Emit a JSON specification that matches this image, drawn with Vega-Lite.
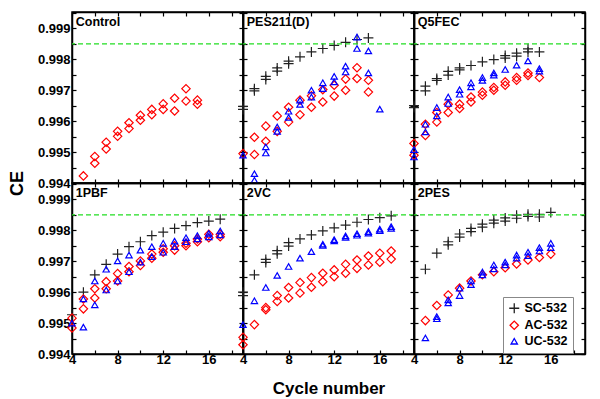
{
  "$schema": "https://vega.github.io/schema/vega-lite/v6.json",
  "autosize": {"type": "pad"},
  "padding": {"left": 7, "top": 6, "right": 12, "bottom": 5},
  "background": "white",
  "config": {
    "view": {"stroke": "black", "strokeWidth": 1.5},
    "axis": {"tickSize": -4, "tickColor": "black", "tickWidth": 1.2, "domainColor": "black", "domainWidth": 1.5, "labelFont": "Liberation Sans", "labelFontWeight": "bold", "labelFontSize": 13, "labelColor": "black", "labelPadding": 3, "labelFlush": false, "labelOverlap": false, "grid": false, "titleFont": "Liberation Sans", "titleFontWeight": "bold", "titleColor": "black"},
    "axisLeft": {"labelPadding": 6},
    "axisTop": {"labels": false, "title": null, "tickCount": 8},
    "axisRight": {"labels": false, "title": null, "tickCount": 11},
    "legend": {"strokeColor": "#888888", "fillColor": "white", "padding": 5, "labelFont": "Liberation Sans", "labelFontWeight": "bold", "labelFontSize": 12.5, "labelColor": "black", "symbolStrokeWidth": 1.3, "rowPadding": 2, "cornerRadius": 0, "labelOffset": 4}
  },
  "datasets": {
    "pts": [
      {"panel":"Control","series":"AC-532","cycle":5,"ce":0.99423},{"panel":"Control","series":"AC-532","cycle":6,"ce":0.99486},{"panel":"Control","series":"AC-532","cycle":6,"ce":0.99464},{"panel":"Control","series":"AC-532","cycle":7,"ce":0.99532},{"panel":"Control","series":"AC-532","cycle":7,"ce":0.9951},{"panel":"Control","series":"AC-532","cycle":8,"ce":0.99567},{"panel":"Control","series":"AC-532","cycle":8,"ce":0.99551},{"panel":"Control","series":"AC-532","cycle":9,"ce":0.99595},{"panel":"Control","series":"AC-532","cycle":9,"ce":0.99576},{"panel":"Control","series":"AC-532","cycle":10,"ce":0.99619},{"panel":"Control","series":"AC-532","cycle":10,"ce":0.99603},{"panel":"Control","series":"AC-532","cycle":11,"ce":0.99638},{"panel":"Control","series":"AC-532","cycle":11,"ce":0.99621},{"panel":"Control","series":"AC-532","cycle":12,"ce":0.99656},{"panel":"Control","series":"AC-532","cycle":12,"ce":0.99638},{"panel":"Control","series":"AC-532","cycle":13,"ce":0.99674},{"panel":"Control","series":"AC-532","cycle":13,"ce":0.99633},{"panel":"Control","series":"AC-532","cycle":14,"ce":0.99705},{"panel":"Control","series":"AC-532","cycle":14,"ce":0.99665},{"panel":"Control","series":"AC-532","cycle":15,"ce":0.99668},{"panel":"Control","series":"AC-532","cycle":15,"ce":0.99655},

      {"panel":"PES211(D)","series":"SC-532","cycle":4,"ce":0.99648},{"panel":"PES211(D)","series":"SC-532","cycle":4,"ce":0.99638},{"panel":"PES211(D)","series":"SC-532","cycle":5,"ce":0.99705},{"panel":"PES211(D)","series":"SC-532","cycle":5,"ce":0.99698},{"panel":"PES211(D)","series":"SC-532","cycle":6,"ce":0.99745},{"panel":"PES211(D)","series":"SC-532","cycle":6,"ce":0.99735},{"panel":"PES211(D)","series":"SC-532","cycle":7,"ce":0.99772},{"panel":"PES211(D)","series":"SC-532","cycle":7,"ce":0.99762},{"panel":"PES211(D)","series":"SC-532","cycle":8,"ce":0.99794},{"panel":"PES211(D)","series":"SC-532","cycle":8,"ce":0.99786},{"panel":"PES211(D)","series":"SC-532","cycle":9,"ce":0.99808},{"panel":"PES211(D)","series":"SC-532","cycle":10,"ce":0.99824},{"panel":"PES211(D)","series":"SC-532","cycle":11,"ce":0.99835},{"panel":"PES211(D)","series":"SC-532","cycle":12,"ce":0.99845},{"panel":"PES211(D)","series":"SC-532","cycle":13,"ce":0.99855},{"panel":"PES211(D)","series":"SC-532","cycle":14,"ce":0.99864},{"panel":"PES211(D)","series":"SC-532","cycle":15,"ce":0.99869},
      {"panel":"PES211(D)","series":"AC-532","cycle":4,"ce":0.99495},{"panel":"PES211(D)","series":"AC-532","cycle":5,"ce":0.99548},{"panel":"PES211(D)","series":"AC-532","cycle":5,"ce":0.99492},{"panel":"PES211(D)","series":"AC-532","cycle":6,"ce":0.99584},{"panel":"PES211(D)","series":"AC-532","cycle":6,"ce":0.99535},{"panel":"PES211(D)","series":"AC-532","cycle":7,"ce":0.99617},{"panel":"PES211(D)","series":"AC-532","cycle":7,"ce":0.99567},{"panel":"PES211(D)","series":"AC-532","cycle":8,"ce":0.99645},{"panel":"PES211(D)","series":"AC-532","cycle":8,"ce":0.99597},{"panel":"PES211(D)","series":"AC-532","cycle":9,"ce":0.99668},{"panel":"PES211(D)","series":"AC-532","cycle":9,"ce":0.99621},{"panel":"PES211(D)","series":"AC-532","cycle":10,"ce":0.99682},{"panel":"PES211(D)","series":"AC-532","cycle":10,"ce":0.99645},{"panel":"PES211(D)","series":"AC-532","cycle":11,"ce":0.99702},{"panel":"PES211(D)","series":"AC-532","cycle":11,"ce":0.99662},{"panel":"PES211(D)","series":"AC-532","cycle":12,"ce":0.99716},{"panel":"PES211(D)","series":"AC-532","cycle":12,"ce":0.99681},{"panel":"PES211(D)","series":"AC-532","cycle":13,"ce":0.99736},{"panel":"PES211(D)","series":"AC-532","cycle":13,"ce":0.997},{"panel":"PES211(D)","series":"AC-532","cycle":14,"ce":0.99773},{"panel":"PES211(D)","series":"AC-532","cycle":14,"ce":0.99738},{"panel":"PES211(D)","series":"AC-532","cycle":15,"ce":0.99732},{"panel":"PES211(D)","series":"AC-532","cycle":15,"ce":0.99694},
      {"panel":"PES211(D)","series":"UC-532","cycle":4,"ce":0.9949},{"panel":"PES211(D)","series":"UC-532","cycle":5,"ce":0.9943},{"panel":"PES211(D)","series":"UC-532","cycle":5,"ce":0.99409},{"panel":"PES211(D)","series":"UC-532","cycle":6,"ce":0.99517},{"panel":"PES211(D)","series":"UC-532","cycle":6,"ce":0.99497},{"panel":"PES211(D)","series":"UC-532","cycle":7,"ce":0.99581},{"panel":"PES211(D)","series":"UC-532","cycle":7,"ce":0.99567},{"panel":"PES211(D)","series":"UC-532","cycle":8,"ce":0.99632},{"panel":"PES211(D)","series":"UC-532","cycle":8,"ce":0.99612},{"panel":"PES211(D)","series":"UC-532","cycle":9,"ce":0.99668},{"panel":"PES211(D)","series":"UC-532","cycle":9,"ce":0.99654},{"panel":"PES211(D)","series":"UC-532","cycle":10,"ce":0.997},{"panel":"PES211(D)","series":"UC-532","cycle":10,"ce":0.99678},{"panel":"PES211(D)","series":"UC-532","cycle":11,"ce":0.99724},{"panel":"PES211(D)","series":"UC-532","cycle":11,"ce":0.99705},{"panel":"PES211(D)","series":"UC-532","cycle":12,"ce":0.99745},{"panel":"PES211(D)","series":"UC-532","cycle":12,"ce":0.99727},{"panel":"PES211(D)","series":"UC-532","cycle":13,"ce":0.99778},{"panel":"PES211(D)","series":"UC-532","cycle":13,"ce":0.99759},{"panel":"PES211(D)","series":"UC-532","cycle":14,"ce":0.99872},{"panel":"PES211(D)","series":"UC-532","cycle":14,"ce":0.99835},{"panel":"PES211(D)","series":"UC-532","cycle":15,"ce":0.99827},{"panel":"PES211(D)","series":"UC-532","cycle":15,"ce":0.99756},{"panel":"PES211(D)","series":"UC-532","cycle":16,"ce":0.99639},

      {"panel":"Q5FEC","series":"SC-532","cycle":4,"ce":0.9965},{"panel":"Q5FEC","series":"SC-532","cycle":4,"ce":0.99644},{"panel":"Q5FEC","series":"SC-532","cycle":5,"ce":0.99713},{"panel":"Q5FEC","series":"SC-532","cycle":5,"ce":0.99698},{"panel":"Q5FEC","series":"SC-532","cycle":6,"ce":0.99738},{"panel":"Q5FEC","series":"SC-532","cycle":6,"ce":0.99732},{"panel":"Q5FEC","series":"SC-532","cycle":7,"ce":0.99761},{"panel":"Q5FEC","series":"SC-532","cycle":7,"ce":0.99749},{"panel":"Q5FEC","series":"SC-532","cycle":8,"ce":0.99772},{"panel":"Q5FEC","series":"SC-532","cycle":8,"ce":0.99766},{"panel":"Q5FEC","series":"SC-532","cycle":9,"ce":0.9978},{"panel":"Q5FEC","series":"SC-532","cycle":10,"ce":0.99792},{"panel":"Q5FEC","series":"SC-532","cycle":11,"ce":0.99799},{"panel":"Q5FEC","series":"SC-532","cycle":12,"ce":0.99812},{"panel":"Q5FEC","series":"SC-532","cycle":12,"ce":0.99804},{"panel":"Q5FEC","series":"SC-532","cycle":13,"ce":0.9982},{"panel":"Q5FEC","series":"SC-532","cycle":13,"ce":0.9981},{"panel":"Q5FEC","series":"SC-532","cycle":14,"ce":0.99834},{"panel":"Q5FEC","series":"SC-532","cycle":14,"ce":0.99824},{"panel":"Q5FEC","series":"SC-532","cycle":15,"ce":0.99824},
      {"panel":"Q5FEC","series":"AC-532","cycle":4,"ce":0.99528},{"panel":"Q5FEC","series":"AC-532","cycle":4,"ce":0.9949},{"panel":"Q5FEC","series":"AC-532","cycle":5,"ce":0.9959},{"panel":"Q5FEC","series":"AC-532","cycle":5,"ce":0.99554},{"panel":"Q5FEC","series":"AC-532","cycle":6,"ce":0.99628},{"panel":"Q5FEC","series":"AC-532","cycle":6,"ce":0.99597},{"panel":"Q5FEC","series":"AC-532","cycle":7,"ce":0.99655},{"panel":"Q5FEC","series":"AC-532","cycle":7,"ce":0.99628},{"panel":"Q5FEC","series":"AC-532","cycle":8,"ce":0.99655},{"panel":"Q5FEC","series":"AC-532","cycle":8,"ce":0.99641},{"panel":"Q5FEC","series":"AC-532","cycle":9,"ce":0.99678},{"panel":"Q5FEC","series":"AC-532","cycle":9,"ce":0.99662},{"panel":"Q5FEC","series":"AC-532","cycle":10,"ce":0.99694},{"panel":"Q5FEC","series":"AC-532","cycle":10,"ce":0.99684},{"panel":"Q5FEC","series":"AC-532","cycle":11,"ce":0.99709},{"panel":"Q5FEC","series":"AC-532","cycle":11,"ce":0.997},{"panel":"Q5FEC","series":"AC-532","cycle":12,"ce":0.99727},{"panel":"Q5FEC","series":"AC-532","cycle":12,"ce":0.99716},{"panel":"Q5FEC","series":"AC-532","cycle":13,"ce":0.99741},{"panel":"Q5FEC","series":"AC-532","cycle":13,"ce":0.99732},{"panel":"Q5FEC","series":"AC-532","cycle":14,"ce":0.99756},{"panel":"Q5FEC","series":"AC-532","cycle":14,"ce":0.99748},{"panel":"Q5FEC","series":"AC-532","cycle":15,"ce":0.99741},
      {"panel":"Q5FEC","series":"UC-532","cycle":4,"ce":0.99508},{"panel":"Q5FEC","series":"UC-532","cycle":4,"ce":0.99484},{"panel":"Q5FEC","series":"UC-532","cycle":5,"ce":0.9959},{"panel":"Q5FEC","series":"UC-532","cycle":5,"ce":0.99565},{"panel":"Q5FEC","series":"UC-532","cycle":6,"ce":0.99644},{"panel":"Q5FEC","series":"UC-532","cycle":6,"ce":0.99617},{"panel":"Q5FEC","series":"UC-532","cycle":7,"ce":0.99678},{"panel":"Q5FEC","series":"UC-532","cycle":7,"ce":0.99657},{"panel":"Q5FEC","series":"UC-532","cycle":8,"ce":0.99702},{"panel":"Q5FEC","series":"UC-532","cycle":8,"ce":0.99687},{"panel":"Q5FEC","series":"UC-532","cycle":9,"ce":0.99724},{"panel":"Q5FEC","series":"UC-532","cycle":9,"ce":0.99711},{"panel":"Q5FEC","series":"UC-532","cycle":10,"ce":0.99741},{"panel":"Q5FEC","series":"UC-532","cycle":10,"ce":0.99732},{"panel":"Q5FEC","series":"UC-532","cycle":11,"ce":0.99756},{"panel":"Q5FEC","series":"UC-532","cycle":11,"ce":0.99749},{"panel":"Q5FEC","series":"UC-532","cycle":12,"ce":0.99767},{"panel":"Q5FEC","series":"UC-532","cycle":13,"ce":0.99781},{"panel":"Q5FEC","series":"UC-532","cycle":14,"ce":0.99795},{"panel":"Q5FEC","series":"UC-532","cycle":15,"ce":0.9977},{"panel":"Q5FEC","series":"UC-532","cycle":15,"ce":0.99762},

      {"panel":"1PBF","series":"SC-532","cycle":4,"ce":0.99527},{"panel":"1PBF","series":"SC-532","cycle":5,"ce":0.996},{"panel":"1PBF","series":"SC-532","cycle":6,"ce":0.99656},{"panel":"1PBF","series":"SC-532","cycle":7,"ce":0.9969},{"panel":"1PBF","series":"SC-532","cycle":8,"ce":0.99723},{"panel":"1PBF","series":"SC-532","cycle":9,"ce":0.99747},{"panel":"1PBF","series":"SC-532","cycle":10,"ce":0.99763},{"panel":"1PBF","series":"SC-532","cycle":11,"ce":0.99783},{"panel":"1PBF","series":"SC-532","cycle":12,"ce":0.99794},{"panel":"1PBF","series":"SC-532","cycle":13,"ce":0.99806},{"panel":"1PBF","series":"SC-532","cycle":14,"ce":0.99815},{"panel":"1PBF","series":"SC-532","cycle":15,"ce":0.99825},{"panel":"1PBF","series":"SC-532","cycle":16,"ce":0.9983},{"panel":"1PBF","series":"SC-532","cycle":17,"ce":0.99836},
      {"panel":"1PBF","series":"AC-532","cycle":4,"ce":0.99516},{"panel":"1PBF","series":"AC-532","cycle":4,"ce":0.99484},{"panel":"1PBF","series":"AC-532","cycle":5,"ce":0.99578},{"panel":"1PBF","series":"AC-532","cycle":5,"ce":0.99546},{"panel":"1PBF","series":"AC-532","cycle":6,"ce":0.99611},{"panel":"1PBF","series":"AC-532","cycle":6,"ce":0.99581},{"panel":"1PBF","series":"AC-532","cycle":7,"ce":0.99634},{"panel":"1PBF","series":"AC-532","cycle":7,"ce":0.99611},{"panel":"1PBF","series":"AC-532","cycle":8,"ce":0.9966},{"panel":"1PBF","series":"AC-532","cycle":8,"ce":0.99636},{"panel":"1PBF","series":"AC-532","cycle":9,"ce":0.99683},{"panel":"1PBF","series":"AC-532","cycle":9,"ce":0.99666},{"panel":"1PBF","series":"AC-532","cycle":10,"ce":0.99701},{"panel":"1PBF","series":"AC-532","cycle":10,"ce":0.99686},{"panel":"1PBF","series":"AC-532","cycle":11,"ce":0.99723},{"panel":"1PBF","series":"AC-532","cycle":11,"ce":0.9971},{"panel":"1PBF","series":"AC-532","cycle":12,"ce":0.9974},{"panel":"1PBF","series":"AC-532","cycle":12,"ce":0.99729},{"panel":"1PBF","series":"AC-532","cycle":13,"ce":0.9975},{"panel":"1PBF","series":"AC-532","cycle":13,"ce":0.99736},{"panel":"1PBF","series":"AC-532","cycle":14,"ce":0.99758},{"panel":"1PBF","series":"AC-532","cycle":14,"ce":0.9975},{"panel":"1PBF","series":"AC-532","cycle":15,"ce":0.99772},{"panel":"1PBF","series":"AC-532","cycle":15,"ce":0.99763},{"panel":"1PBF","series":"AC-532","cycle":16,"ce":0.99787},{"panel":"1PBF","series":"AC-532","cycle":16,"ce":0.99776},{"panel":"1PBF","series":"AC-532","cycle":17,"ce":0.99787},{"panel":"1PBF","series":"AC-532","cycle":17,"ce":0.99779},
      {"panel":"1PBF","series":"UC-532","cycle":4,"ce":0.995},{"panel":"1PBF","series":"UC-532","cycle":5,"ce":0.99578},{"panel":"1PBF","series":"UC-532","cycle":5,"ce":0.99487},{"panel":"1PBF","series":"UC-532","cycle":6,"ce":0.99636},{"panel":"1PBF","series":"UC-532","cycle":6,"ce":0.99559},{"panel":"1PBF","series":"UC-532","cycle":7,"ce":0.99674},{"panel":"1PBF","series":"UC-532","cycle":7,"ce":0.99607},{"panel":"1PBF","series":"UC-532","cycle":8,"ce":0.99701},{"panel":"1PBF","series":"UC-532","cycle":8,"ce":0.99636},{"panel":"1PBF","series":"UC-532","cycle":9,"ce":0.9972},{"panel":"1PBF","series":"UC-532","cycle":9,"ce":0.99666},{"panel":"1PBF","series":"UC-532","cycle":10,"ce":0.99736},{"panel":"1PBF","series":"UC-532","cycle":10,"ce":0.99697},{"panel":"1PBF","series":"UC-532","cycle":11,"ce":0.99747},{"panel":"1PBF","series":"UC-532","cycle":11,"ce":0.99715},{"panel":"1PBF","series":"UC-532","cycle":12,"ce":0.99758},{"panel":"1PBF","series":"UC-532","cycle":12,"ce":0.99729},{"panel":"1PBF","series":"UC-532","cycle":13,"ce":0.99765},{"panel":"1PBF","series":"UC-532","cycle":13,"ce":0.99747},{"panel":"1PBF","series":"UC-532","cycle":14,"ce":0.99776},{"panel":"1PBF","series":"UC-532","cycle":14,"ce":0.99763},{"panel":"1PBF","series":"UC-532","cycle":15,"ce":0.99783},{"panel":"1PBF","series":"UC-532","cycle":15,"ce":0.99772},{"panel":"1PBF","series":"UC-532","cycle":16,"ce":0.9979},{"panel":"1PBF","series":"UC-532","cycle":16,"ce":0.99779},{"panel":"1PBF","series":"UC-532","cycle":17,"ce":0.99798},{"panel":"1PBF","series":"UC-532","cycle":17,"ce":0.99785},

      {"panel":"2VC","series":"SC-532","cycle":4,"ce":0.996},{"panel":"2VC","series":"SC-532","cycle":4,"ce":0.99589},{"panel":"2VC","series":"SC-532","cycle":5,"ce":0.99656},{"panel":"2VC","series":"SC-532","cycle":6,"ce":0.99706},{"panel":"2VC","series":"SC-532","cycle":6,"ce":0.99696},{"panel":"2VC","series":"SC-532","cycle":7,"ce":0.99734},{"panel":"2VC","series":"SC-532","cycle":7,"ce":0.99724},{"panel":"2VC","series":"SC-532","cycle":8,"ce":0.9976},{"panel":"2VC","series":"SC-532","cycle":8,"ce":0.99749},{"panel":"2VC","series":"SC-532","cycle":9,"ce":0.99772},{"panel":"2VC","series":"SC-532","cycle":10,"ce":0.99785},{"panel":"2VC","series":"SC-532","cycle":11,"ce":0.99798},{"panel":"2VC","series":"SC-532","cycle":12,"ce":0.99808},{"panel":"2VC","series":"SC-532","cycle":13,"ce":0.99817},{"panel":"2VC","series":"SC-532","cycle":14,"ce":0.99826},{"panel":"2VC","series":"SC-532","cycle":15,"ce":0.99835},{"panel":"2VC","series":"SC-532","cycle":16,"ce":0.99841},{"panel":"2VC","series":"SC-532","cycle":17,"ce":0.99847},
      {"panel":"2VC","series":"AC-532","cycle":4,"ce":0.99454},{"panel":"2VC","series":"AC-532","cycle":4,"ce":0.9943},{"panel":"2VC","series":"AC-532","cycle":5,"ce":0.99495},{"panel":"2VC","series":"AC-532","cycle":6,"ce":0.9955},{"panel":"2VC","series":"AC-532","cycle":6,"ce":0.99543},{"panel":"2VC","series":"AC-532","cycle":7,"ce":0.99589},{"panel":"2VC","series":"AC-532","cycle":7,"ce":0.9957},{"panel":"2VC","series":"AC-532","cycle":8,"ce":0.99615},{"panel":"2VC","series":"AC-532","cycle":8,"ce":0.99581},{"panel":"2VC","series":"AC-532","cycle":9,"ce":0.99631},{"panel":"2VC","series":"AC-532","cycle":9,"ce":0.99597},{"panel":"2VC","series":"AC-532","cycle":10,"ce":0.99647},{"panel":"2VC","series":"AC-532","cycle":10,"ce":0.99616},{"panel":"2VC","series":"AC-532","cycle":11,"ce":0.99661},{"panel":"2VC","series":"AC-532","cycle":11,"ce":0.99634},{"panel":"2VC","series":"AC-532","cycle":12,"ce":0.99672},{"panel":"2VC","series":"AC-532","cycle":12,"ce":0.9965},{"panel":"2VC","series":"AC-532","cycle":13,"ce":0.9969},{"panel":"2VC","series":"AC-532","cycle":13,"ce":0.99661},{"panel":"2VC","series":"AC-532","cycle":14,"ce":0.99704},{"panel":"2VC","series":"AC-532","cycle":14,"ce":0.99677},{"panel":"2VC","series":"AC-532","cycle":15,"ce":0.99717},{"panel":"2VC","series":"AC-532","cycle":15,"ce":0.99688},{"panel":"2VC","series":"AC-532","cycle":16,"ce":0.99726},{"panel":"2VC","series":"AC-532","cycle":16,"ce":0.99697},{"panel":"2VC","series":"AC-532","cycle":17,"ce":0.99733},{"panel":"2VC","series":"AC-532","cycle":17,"ce":0.99707},
      {"panel":"2VC","series":"UC-532","cycle":4,"ce":0.99495},{"panel":"2VC","series":"UC-532","cycle":5,"ce":0.99572},{"panel":"2VC","series":"UC-532","cycle":6,"ce":0.99615},{"panel":"2VC","series":"UC-532","cycle":7,"ce":0.99654},{"panel":"2VC","series":"UC-532","cycle":8,"ce":0.99683},{"panel":"2VC","series":"UC-532","cycle":9,"ce":0.9971},{"panel":"2VC","series":"UC-532","cycle":10,"ce":0.99731},{"panel":"2VC","series":"UC-532","cycle":11,"ce":0.99755},{"panel":"2VC","series":"UC-532","cycle":11,"ce":0.99751},{"panel":"2VC","series":"UC-532","cycle":12,"ce":0.9977},{"panel":"2VC","series":"UC-532","cycle":12,"ce":0.99766},{"panel":"2VC","series":"UC-532","cycle":13,"ce":0.99782},{"panel":"2VC","series":"UC-532","cycle":13,"ce":0.99777},{"panel":"2VC","series":"UC-532","cycle":14,"ce":0.99789},{"panel":"2VC","series":"UC-532","cycle":14,"ce":0.99784},{"panel":"2VC","series":"UC-532","cycle":15,"ce":0.99796},{"panel":"2VC","series":"UC-532","cycle":15,"ce":0.99791},{"panel":"2VC","series":"UC-532","cycle":16,"ce":0.99804},{"panel":"2VC","series":"UC-532","cycle":16,"ce":0.99799},{"panel":"2VC","series":"UC-532","cycle":17,"ce":0.99812},{"panel":"2VC","series":"UC-532","cycle":17,"ce":0.99806},

      {"panel":"2PES","series":"SC-532","cycle":5,"ce":0.99674},{"panel":"2PES","series":"SC-532","cycle":6,"ce":0.99726},{"panel":"2PES","series":"SC-532","cycle":7,"ce":0.99763},{"panel":"2PES","series":"SC-532","cycle":7,"ce":0.99753},{"panel":"2PES","series":"SC-532","cycle":8,"ce":0.99788},{"panel":"2PES","series":"SC-532","cycle":8,"ce":0.99778},{"panel":"2PES","series":"SC-532","cycle":9,"ce":0.99806},{"panel":"2PES","series":"SC-532","cycle":9,"ce":0.99796},{"panel":"2PES","series":"SC-532","cycle":10,"ce":0.9982},{"panel":"2PES","series":"SC-532","cycle":10,"ce":0.9981},{"panel":"2PES","series":"SC-532","cycle":11,"ce":0.99833},{"panel":"2PES","series":"SC-532","cycle":11,"ce":0.99823},{"panel":"2PES","series":"SC-532","cycle":12,"ce":0.9984},{"panel":"2PES","series":"SC-532","cycle":12,"ce":0.9983},{"panel":"2PES","series":"SC-532","cycle":13,"ce":0.99849},{"panel":"2PES","series":"SC-532","cycle":13,"ce":0.99839},{"panel":"2PES","series":"SC-532","cycle":14,"ce":0.99852},{"panel":"2PES","series":"SC-532","cycle":14,"ce":0.99845},{"panel":"2PES","series":"SC-532","cycle":15,"ce":0.99852},{"panel":"2PES","series":"SC-532","cycle":15,"ce":0.99843},{"panel":"2PES","series":"SC-532","cycle":16,"ce":0.99858},
      {"panel":"2PES","series":"AC-532","cycle":5,"ce":0.99508},{"panel":"2PES","series":"AC-532","cycle":6,"ce":0.99557},{"panel":"2PES","series":"AC-532","cycle":7,"ce":0.99591},{"panel":"2PES","series":"AC-532","cycle":8,"ce":0.99613},{"panel":"2PES","series":"AC-532","cycle":9,"ce":0.99636},{"panel":"2PES","series":"AC-532","cycle":10,"ce":0.99656},{"panel":"2PES","series":"AC-532","cycle":11,"ce":0.99666},{"panel":"2PES","series":"AC-532","cycle":12,"ce":0.99679},{"panel":"2PES","series":"AC-532","cycle":13,"ce":0.99691},{"panel":"2PES","series":"AC-532","cycle":14,"ce":0.99704},{"panel":"2PES","series":"AC-532","cycle":15,"ce":0.99712},{"panel":"2PES","series":"AC-532","cycle":16,"ce":0.99723},
      {"panel":"2PES","series":"UC-532","cycle":5,"ce":0.99452},{"panel":"2PES","series":"UC-532","cycle":6,"ce":0.99521},{"panel":"2PES","series":"UC-532","cycle":6,"ce":0.99514},{"panel":"2PES","series":"UC-532","cycle":7,"ce":0.99575},{"panel":"2PES","series":"UC-532","cycle":7,"ce":0.99565},{"panel":"2PES","series":"UC-532","cycle":8,"ce":0.99613},{"panel":"2PES","series":"UC-532","cycle":8,"ce":0.99589},{"panel":"2PES","series":"UC-532","cycle":9,"ce":0.99636},{"panel":"2PES","series":"UC-532","cycle":9,"ce":0.99624},{"panel":"2PES","series":"UC-532","cycle":10,"ce":0.99665},{"panel":"2PES","series":"UC-532","cycle":10,"ce":0.99656},{"panel":"2PES","series":"UC-532","cycle":11,"ce":0.99688},{"panel":"2PES","series":"UC-532","cycle":11,"ce":0.99675},{"panel":"2PES","series":"UC-532","cycle":12,"ce":0.99697},{"panel":"2PES","series":"UC-532","cycle":12,"ce":0.99688},{"panel":"2PES","series":"UC-532","cycle":13,"ce":0.9972},{"panel":"2PES","series":"UC-532","cycle":13,"ce":0.9971},{"panel":"2PES","series":"UC-532","cycle":14,"ce":0.99729},{"panel":"2PES","series":"UC-532","cycle":14,"ce":0.99718},{"panel":"2PES","series":"UC-532","cycle":15,"ce":0.99744},{"panel":"2PES","series":"UC-532","cycle":15,"ce":0.99733},{"panel":"2PES","series":"UC-532","cycle":16,"ce":0.99758},{"panel":"2PES","series":"UC-532","cycle":16,"ce":0.99744}
    ]
  },
  "data": {"name": "pts"},
  "columns": 3,
  "spacing": 0,
  "bounds": "flush",
  "concat": [
    {
      "width": 171, "height": 171,
      "resolve": {"axis": {"x": "independent", "y": "independent"}},
      "layer": [
        {"transform": [{"filter": "datum.panel == 'Control'"}],
         "mark": {"type": "point", "filled": false, "strokeWidth": 1.2, "opacity": 1},
         "encoding": {
           "x": {"field": "cycle", "type": "quantitative", "scale": {"domain": [4, 19], "nice": false, "zero": false}, "axis": {"orient": "bottom", "values": [4,6,8,10,12,14,16,18], "labels": false, "title": null}},
           "y": {"field": "ce", "type": "quantitative", "scale": {"domain": [0.994, 0.99953], "nice": false, "zero": false}, "axis": {"orient": "left", "values": [0.994,0.9945,0.995,0.9955,0.996,0.9965,0.997,0.9975,0.998,0.9985,0.999,0.9995], "format": ".3f", "labelExpr": "round(datum.value*10000) % 10 == 0 ? datum.label : ''", "title": "CE", "titleFontSize": 18, "titleX": -46, "titleY": 171}},
           "shape": {"field": "series", "type": "nominal", "scale": {"domain": ["SC-532","AC-532","UC-532"], "range": ["M-1,0L1,0M0,-1L0,1", "diamond", "triangle-up"]}, "legend": {"title": null}},
           "color": {"field": "series", "type": "nominal", "scale": {"domain": ["SC-532","AC-532","UC-532"], "range": ["#222222", "#ff0000", "#0000ff"]}, "legend": {"title": null, "orient": "none", "legendX": 431, "legendY": 285}},
           "size": {"field": "series", "type": "nominal", "scale": {"domain": ["SC-532","AC-532","UC-532"], "range": [100, 40, 36]}, "legend": {"title": null}}
         }},
        {"data": {"values": [{}]}, "mark": {"type": "rule", "color": "#22dd22", "strokeDash": [5, 3], "strokeWidth": 1.3}, "encoding": {"y": {"datum": 0.9985, "axis": null}}},
        {"data": {"values": [{}]}, "mark": {"type": "text", "align": "left", "baseline": "middle", "font": "Liberation Sans", "fontWeight": "bold", "fontSize": 12.5, "color": "black"},
         "encoding": {"x": {"datum": 4.33, "type": "quantitative", "axis": {"orient": "top", "labels": false, "title": null}}, "y": {"datum": 0.99922, "type": "quantitative", "axis": {"orient": "right", "labels": false, "title": null}}, "text": {"value": "Control"}}}
      ]
    },
    {
      "width": 171, "height": 171,
      "resolve": {"axis": {"x": "independent", "y": "independent"}},
      "layer": [
        {"transform": [{"filter": "datum.panel == 'PES211(D)'"}],
         "mark": {"type": "point", "filled": false, "strokeWidth": 1.2, "opacity": 1},
         "encoding": {
           "x": {"field": "cycle", "type": "quantitative", "scale": {"domain": [4, 19], "nice": false, "zero": false}, "axis": {"orient": "bottom", "values": [4,6,8,10,12,14,16,18], "labels": false, "title": null}},
           "y": {"field": "ce", "type": "quantitative", "scale": {"domain": [0.994, 0.99953], "nice": false, "zero": false}, "axis": {"orient": "left", "values": [0.994,0.9945,0.995,0.9955,0.996,0.9965,0.997,0.9975,0.998,0.9985,0.999,0.9995], "labels": false, "title": null}},
           "shape": {"field": "series", "type": "nominal", "scale": {"domain": ["SC-532","AC-532","UC-532"], "range": ["M-1,0L1,0M0,-1L0,1", "diamond", "triangle-up"]}, "legend": {"title": null}},
           "color": {"field": "series", "type": "nominal", "scale": {"domain": ["SC-532","AC-532","UC-532"], "range": ["#222222", "#ff0000", "#0000ff"]}, "legend": {"title": null, "orient": "none", "legendX": 431, "legendY": 285}},
           "size": {"field": "series", "type": "nominal", "scale": {"domain": ["SC-532","AC-532","UC-532"], "range": [100, 40, 36]}, "legend": {"title": null}}
         }},
        {"data": {"values": [{}]}, "mark": {"type": "rule", "color": "#22dd22", "strokeDash": [5, 3], "strokeWidth": 1.3}, "encoding": {"y": {"datum": 0.9985, "axis": null}}},
        {"data": {"values": [{}]}, "mark": {"type": "text", "align": "left", "baseline": "middle", "font": "Liberation Sans", "fontWeight": "bold", "fontSize": 12.5, "color": "black"},
         "encoding": {"x": {"datum": 4.33, "type": "quantitative", "axis": {"orient": "top", "labels": false, "title": null}}, "y": {"datum": 0.99922, "type": "quantitative", "axis": {"orient": "right", "labels": false, "title": null}}, "text": {"value": "PES211(D)"}}}
      ]
    },
    {
      "width": 171, "height": 171,
      "resolve": {"axis": {"x": "independent", "y": "independent"}},
      "layer": [
        {"transform": [{"filter": "datum.panel == 'Q5FEC'"}],
         "mark": {"type": "point", "filled": false, "strokeWidth": 1.2, "opacity": 1},
         "encoding": {
           "x": {"field": "cycle", "type": "quantitative", "scale": {"domain": [4, 19], "nice": false, "zero": false}, "axis": {"orient": "bottom", "values": [4,6,8,10,12,14,16,18], "labels": false, "title": null}},
           "y": {"field": "ce", "type": "quantitative", "scale": {"domain": [0.994, 0.99953], "nice": false, "zero": false}, "axis": {"orient": "left", "values": [0.994,0.9945,0.995,0.9955,0.996,0.9965,0.997,0.9975,0.998,0.9985,0.999,0.9995], "labels": false, "title": null}},
           "shape": {"field": "series", "type": "nominal", "scale": {"domain": ["SC-532","AC-532","UC-532"], "range": ["M-1,0L1,0M0,-1L0,1", "diamond", "triangle-up"]}, "legend": {"title": null}},
           "color": {"field": "series", "type": "nominal", "scale": {"domain": ["SC-532","AC-532","UC-532"], "range": ["#222222", "#ff0000", "#0000ff"]}, "legend": {"title": null, "orient": "none", "legendX": 431, "legendY": 285}},
           "size": {"field": "series", "type": "nominal", "scale": {"domain": ["SC-532","AC-532","UC-532"], "range": [100, 40, 36]}, "legend": {"title": null}}
         }},
        {"data": {"values": [{}]}, "mark": {"type": "rule", "color": "#22dd22", "strokeDash": [5, 3], "strokeWidth": 1.3}, "encoding": {"y": {"datum": 0.9985, "axis": null}}},
        {"data": {"values": [{}]}, "mark": {"type": "text", "align": "left", "baseline": "middle", "font": "Liberation Sans", "fontWeight": "bold", "fontSize": 12.5, "color": "black"},
         "encoding": {"x": {"datum": 4.33, "type": "quantitative", "axis": {"orient": "top", "labels": false, "title": null}}, "y": {"datum": 0.99922, "type": "quantitative", "axis": {"orient": "right", "labels": false, "title": null}}, "text": {"value": "Q5FEC"}}}
      ]
    },
    {
      "width": 171, "height": 171,
      "resolve": {"axis": {"x": "independent", "y": "independent"}},
      "layer": [
        {"transform": [{"filter": "datum.panel == '1PBF'"}],
         "mark": {"type": "point", "filled": false, "strokeWidth": 1.2, "opacity": 1},
         "encoding": {
           "x": {"field": "cycle", "type": "quantitative", "scale": {"domain": [4, 19], "nice": false, "zero": false}, "axis": {"orient": "bottom", "values": [4,6,8,10,12,14,16,18], "labelExpr": "datum.value % 4 == 0 ? datum.label : ''", "title": null}},
           "y": {"field": "ce", "type": "quantitative", "scale": {"domain": [0.994, 0.99953], "nice": false, "zero": false}, "axis": {"orient": "left", "values": [0.994,0.9945,0.995,0.9955,0.996,0.9965,0.997,0.9975,0.998,0.9985,0.999,0.9995], "format": ".3f", "labelExpr": "round(datum.value*10000) % 10 == 0 ? datum.label : ''", "title": null}},
           "shape": {"field": "series", "type": "nominal", "scale": {"domain": ["SC-532","AC-532","UC-532"], "range": ["M-1,0L1,0M0,-1L0,1", "diamond", "triangle-up"]}, "legend": {"title": null}},
           "color": {"field": "series", "type": "nominal", "scale": {"domain": ["SC-532","AC-532","UC-532"], "range": ["#222222", "#ff0000", "#0000ff"]}, "legend": {"title": null, "orient": "none", "legendX": 431, "legendY": 285}},
           "size": {"field": "series", "type": "nominal", "scale": {"domain": ["SC-532","AC-532","UC-532"], "range": [100, 40, 36]}, "legend": {"title": null}}
         }},
        {"data": {"values": [{}]}, "mark": {"type": "rule", "color": "#22dd22", "strokeDash": [5, 3], "strokeWidth": 1.3}, "encoding": {"y": {"datum": 0.9985, "axis": null}}},
        {"data": {"values": [{}]}, "mark": {"type": "text", "align": "left", "baseline": "middle", "font": "Liberation Sans", "fontWeight": "bold", "fontSize": 12.5, "color": "black"},
         "encoding": {"x": {"datum": 4.33, "type": "quantitative", "axis": {"orient": "top", "labels": false, "title": null}}, "y": {"datum": 0.99922, "type": "quantitative", "axis": {"orient": "right", "labels": false, "title": null}}, "text": {"value": "1PBF"}}}
      ]
    },
    {
      "width": 171, "height": 171,
      "resolve": {"axis": {"x": "independent", "y": "independent"}},
      "layer": [
        {"transform": [{"filter": "datum.panel == '2VC'"}],
         "mark": {"type": "point", "filled": false, "strokeWidth": 1.2, "opacity": 1},
         "encoding": {
           "x": {"field": "cycle", "type": "quantitative", "scale": {"domain": [4, 19], "nice": false, "zero": false}, "axis": {"orient": "bottom", "values": [4,6,8,10,12,14,16,18], "labelExpr": "datum.value % 4 == 0 ? datum.label : ''", "title": "Cycle number", "titleFontSize": 17, "titlePadding": 14}},
           "y": {"field": "ce", "type": "quantitative", "scale": {"domain": [0.994, 0.99953], "nice": false, "zero": false}, "axis": {"orient": "left", "values": [0.994,0.9945,0.995,0.9955,0.996,0.9965,0.997,0.9975,0.998,0.9985,0.999,0.9995], "labels": false, "title": null}},
           "shape": {"field": "series", "type": "nominal", "scale": {"domain": ["SC-532","AC-532","UC-532"], "range": ["M-1,0L1,0M0,-1L0,1", "diamond", "triangle-up"]}, "legend": {"title": null}},
           "color": {"field": "series", "type": "nominal", "scale": {"domain": ["SC-532","AC-532","UC-532"], "range": ["#222222", "#ff0000", "#0000ff"]}, "legend": {"title": null, "orient": "none", "legendX": 431, "legendY": 285}},
           "size": {"field": "series", "type": "nominal", "scale": {"domain": ["SC-532","AC-532","UC-532"], "range": [100, 40, 36]}, "legend": {"title": null}}
         }},
        {"data": {"values": [{}]}, "mark": {"type": "rule", "color": "#22dd22", "strokeDash": [5, 3], "strokeWidth": 1.3}, "encoding": {"y": {"datum": 0.9985, "axis": null}}},
        {"data": {"values": [{}]}, "mark": {"type": "text", "align": "left", "baseline": "middle", "font": "Liberation Sans", "fontWeight": "bold", "fontSize": 12.5, "color": "black"},
         "encoding": {"x": {"datum": 4.33, "type": "quantitative", "axis": {"orient": "top", "labels": false, "title": null}}, "y": {"datum": 0.99922, "type": "quantitative", "axis": {"orient": "right", "labels": false, "title": null}}, "text": {"value": "2VC"}}}
      ]
    },
    {
      "width": 171, "height": 171,
      "resolve": {"axis": {"x": "independent", "y": "independent"}},
      "layer": [
        {"transform": [{"filter": "datum.panel == '2PES'"}],
         "mark": {"type": "point", "filled": false, "strokeWidth": 1.2, "opacity": 1},
         "encoding": {
           "x": {"field": "cycle", "type": "quantitative", "scale": {"domain": [4, 19], "nice": false, "zero": false}, "axis": {"orient": "bottom", "values": [4,6,8,10,12,14,16,18], "labelExpr": "datum.value % 4 == 0 ? datum.label : ''", "title": null}},
           "y": {"field": "ce", "type": "quantitative", "scale": {"domain": [0.994, 0.99953], "nice": false, "zero": false}, "axis": {"orient": "left", "values": [0.994,0.9945,0.995,0.9955,0.996,0.9965,0.997,0.9975,0.998,0.9985,0.999,0.9995], "labels": false, "title": null}},
           "shape": {"field": "series", "type": "nominal", "scale": {"domain": ["SC-532","AC-532","UC-532"], "range": ["M-1,0L1,0M0,-1L0,1", "diamond", "triangle-up"]}, "legend": {"title": null}},
           "color": {"field": "series", "type": "nominal", "scale": {"domain": ["SC-532","AC-532","UC-532"], "range": ["#222222", "#ff0000", "#0000ff"]}, "legend": {"title": null, "orient": "none", "legendX": 431, "legendY": 285}},
           "size": {"field": "series", "type": "nominal", "scale": {"domain": ["SC-532","AC-532","UC-532"], "range": [100, 40, 36]}, "legend": {"title": null}}
         }},
        {"data": {"values": [{}]}, "mark": {"type": "rule", "color": "#22dd22", "strokeDash": [5, 3], "strokeWidth": 1.3}, "encoding": {"y": {"datum": 0.9985, "axis": null}}},
        {"data": {"values": [{}]}, "mark": {"type": "text", "align": "left", "baseline": "middle", "font": "Liberation Sans", "fontWeight": "bold", "fontSize": 12.5, "color": "black"},
         "encoding": {"x": {"datum": 4.33, "type": "quantitative", "axis": {"orient": "top", "labels": false, "title": null}}, "y": {"datum": 0.99922, "type": "quantitative", "axis": {"orient": "right", "labels": false, "title": null}}, "text": {"value": "2PES"}}}
      ]
    }
  ]
}
